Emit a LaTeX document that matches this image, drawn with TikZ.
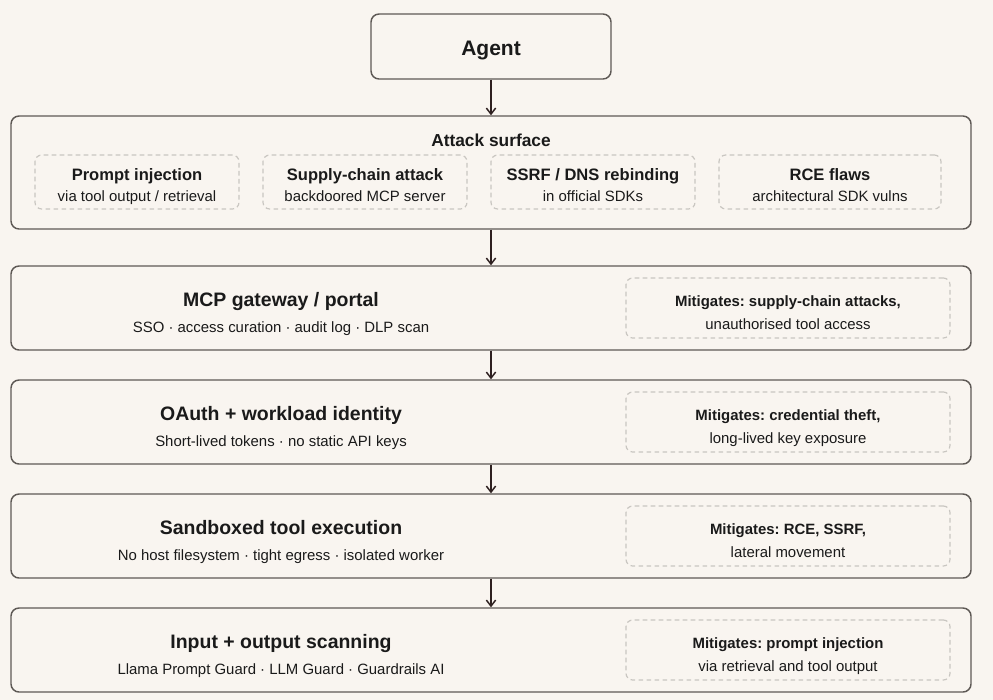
\documentclass[tikz,border=0pt]{standalone}
\usepackage{fontspec}
\setmainfont{Liberation Sans}
\usetikzlibrary{arrows.meta}
\frenchspacing

\definecolor{paper}{HTML}{F9F5F0}
\definecolor{edge}{HTML}{5E5955}
\definecolor{dashline}{HTML}{C9C6C1}
\definecolor{ink}{HTML}{1A1A1A}
\definecolor{arrowink}{HTML}{2E2020}

\tikzset{
  layerbox/.style={draw=edge, line width=1.1pt, rounded corners=6pt, fill=paper,
    minimum width=720pt, minimum height=63pt, inner sep=0pt},
  dashbox/.style={draw=dashline, line width=0.9pt, dash pattern=on 3.5pt off 2.5pt,
    rounded corners=5pt, inner sep=0pt},
  layertitle/.style={anchor=base, inner sep=0pt, text=ink,
    font=\bfseries\fontsize{14.6}{17}\selectfont},
  threattitle/.style={anchor=base, inner sep=0pt, text=ink,
    font=\bfseries\fontsize{12.4}{15}\selectfont},
  smalltext/.style={anchor=base, inner sep=0pt, text=ink,
    font=\fontsize{11.2}{13}\selectfont},
  smallbold/.style={smalltext, font=\bfseries\fontsize{11.2}{13}\selectfont},
  flow/.style={draw=arrowink, line width=1.1pt, -{Straight Barb[length=4.5pt,width=7pt]}}
}

\begin{document}
\begin{tikzpicture}[x=0.75pt, y=-0.75pt]

  % canvas
  \fill[paper] (0,0) rectangle (993,700);
  \useasboundingbox (0,0) rectangle (993,700);

  %===== Agent =====%
  \node[layerbox, minimum width=180pt, minimum height=48.75pt] (agent) at (491,46.5) {};
  \node[anchor=base, inner sep=0pt, text=ink, font=\bfseries\fontsize{15.75}{18}\selectfont]
    (agentT) at (491,55) {Agent};

  %===== Attack surface =====%
  \node[layerbox, minimum height=84.75pt] (attack) at (491,172.5) {};
  \node[threattitle, font=\bfseries\fontsize{13}{15}\selectfont] (attackT) at (491,146) {Attack surface};

  % threats
  \node[dashbox, minimum width=153pt, minimum height=40.5pt] (inject) at (137,182) {};
  \node[threattitle] (injectT) at (137,180) {Prompt injection};
  \node[smalltext] (injectS) at (137,201) {via tool output / retrieval};

  \node[dashbox, minimum width=153pt, minimum height=40.5pt] (supply) at (365,182) {};
  \node[threattitle] (supplyT) at (365,180) {Supply-chain attack};
  \node[smalltext] (supplyS) at (365,201) {backdoored MCP server};

  \node[dashbox, minimum width=153pt, minimum height=40.5pt] (ssrf) at (593,182) {};
  \node[threattitle] (ssrfT) at (593,180) {SSRF / DNS rebinding};
  \node[smalltext] (ssrfS) at (593,201) {in official SDKs};

  \node[dashbox, minimum width=166.5pt, minimum height=40.5pt] (rce) at (830,182) {};
  \node[threattitle] (rceT) at (830,180) {RCE flaws};
  \node[smalltext] (rceS) at (830,201) {architectural SDK vulns};

  %===== MCP gateway / portal =====%
  \node[layerbox] (gateway) at (491,308) {};
  \node[layertitle] (gatewayT) at (281,306) {MCP gateway / portal};
  \node[smalltext] (gatewayS) at (281,332) {SSO · access curation · audit log · DLP scan};
  \node[dashbox, minimum width=243pt, minimum height=45pt] (gatewayM) at (788,308) {};
  \node[smallbold] (gatewayMT) at (788,306.5) {Mitigates: supply-chain attacks,};
  \node[smalltext] (gatewayMS) at (788,329) {unauthorised tool access};

  %===== OAuth + workload identity =====%
  \node[layerbox] (oauth) at (491,422) {};
  \node[layertitle] (oauthT) at (281,420) {OAuth + workload identity};
  \node[smalltext] (oauthS) at (281,446) {Short-lived tokens · no static API keys};
  \node[dashbox, minimum width=243pt, minimum height=45pt] (oauthM) at (788,422) {};
  \node[smallbold] (oauthMT) at (788,420.5) {Mitigates: credential theft,};
  \node[smalltext] (oauthMS) at (788,443) {long-lived key exposure};

  %===== Sandboxed tool execution =====%
  \node[layerbox] (sandbox) at (491,536) {};
  \node[layertitle] (sandboxT) at (281,534) {Sandboxed tool execution};
  \node[smalltext] (sandboxS) at (281,560) {No host filesystem · tight egress · isolated worker};
  \node[dashbox, minimum width=243pt, minimum height=45pt] (sandboxM) at (788,536) {};
  \node[smallbold] (sandboxMT) at (788,534.5) {Mitigates: RCE, SSRF,};
  \node[smalltext] (sandboxMS) at (788,557) {lateral movement};

  %===== Input + output scanning =====%
  \node[layerbox] (scan) at (491,650) {};
  \node[layertitle] (scanT) at (281,648) {Input + output scanning};
  \node[smalltext] (scanS) at (281,674) {Llama Prompt Guard · LLM Guard · Guardrails AI};
  \node[dashbox, minimum width=243pt, minimum height=45pt] (scanM) at (788,650) {};
  \node[smallbold] (scanMT) at (788,648.5) {Mitigates: prompt injection};
  \node[smalltext] (scanMS) at (788,671) {via retrieval and tool output};

  % flow down the stack
  \draw[flow] (agent) -- (attack);
  \draw[flow] (attack) -- (gateway);
  \draw[flow] (gateway) -- (oauth);
  \draw[flow] (oauth) -- (sandbox);
  \draw[flow] (sandbox) -- (scan);

\end{tikzpicture}
\end{document}
